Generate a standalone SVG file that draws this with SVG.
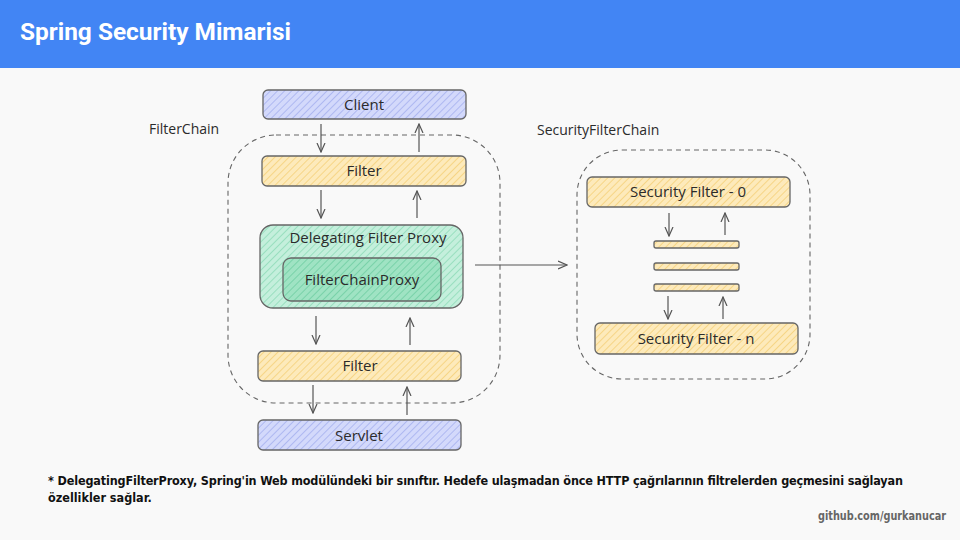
<svg xmlns="http://www.w3.org/2000/svg" width="960" height="540" viewBox="0 0 960 540">
<defs>
<pattern id="hb" width="5" height="5" patternUnits="userSpaceOnUse" patternTransform="rotate(45)"><rect width="5" height="5" fill="#d3d9fb"/><line x1="0" y1="0" x2="0" y2="5" stroke="#a5b0ef" stroke-width="1.6"/></pattern>
<pattern id="hy" width="5" height="5" patternUnits="userSpaceOnUse" patternTransform="rotate(45)"><rect width="5" height="5" fill="#fdeabb"/><line x1="0" y1="0" x2="0" y2="5" stroke="#f5d078" stroke-width="1.6"/></pattern>
<pattern id="hg" width="5" height="5" patternUnits="userSpaceOnUse" patternTransform="rotate(45)"><rect width="5" height="5" fill="#c4efdc"/><line x1="0" y1="0" x2="0" y2="5" stroke="#8edbb8" stroke-width="1.6"/></pattern>
<pattern id="hg2" width="5" height="5" patternUnits="userSpaceOnUse" patternTransform="rotate(45)"><rect width="5" height="5" fill="#9fe3c3"/><line x1="0" y1="0" x2="0" y2="5" stroke="#6fcea2" stroke-width="1.6"/></pattern>
<marker id="ah" viewBox="0 0 10 10" refX="9" refY="5" markerWidth="10" markerHeight="10" orient="auto" markerUnits="userSpaceOnUse"><path d="M0,1 L9,5 L0,9" fill="none" stroke="#555" stroke-width="1.2"/></marker>
<style>
.lbl{font-family:"Open Sans","DejaVu Sans",sans-serif;font-size:15px;fill:#2b2b2b;text-anchor:middle}
.cap{font-family:"Open Sans","DejaVu Sans",sans-serif;font-size:14px;fill:#2b2b2b}
.box{stroke:#666;stroke-width:1.3}
.con{stroke:#555;stroke-width:1.2;fill:none;marker-end:url(#ah)}
.dash{fill:none;stroke:#666;stroke-width:1.1;stroke-dasharray:5 4}
</style>
</defs>
<rect width="960" height="540" fill="#f9f9f9"/>
<rect width="960" height="68" fill="#4285f4"/>
<text x="20" y="40" font-family="Roboto,'Liberation Sans',sans-serif" font-weight="bold" font-size="24" fill="#fff" textLength="271" lengthAdjust="spacingAndGlyphs">Spring Security Mimarisi</text>

<g id="filterchain-container">
<rect x="228" y="135" width="272" height="268" rx="48" class="dash"/>
<text x="149" y="134" class="cap">FilterChain</text>
</g>
<g id="securityfilterchain-container">
<rect x="577" y="150" width="233" height="229" rx="45" class="dash"/>
<text x="537" y="135" class="cap">SecurityFilterChain</text>
</g>

<g id="client"><rect x="263" y="90" width="203" height="29" rx="5" fill="url(#hb)" class="box"/><text x="364" y="110" class="lbl">Client</text></g>
<g id="filter1"><rect x="262" y="156" width="204" height="30" rx="5" fill="url(#hy)" class="box"/><text x="364" y="176" class="lbl">Filter</text></g>
<g id="delegating-filter-proxy"><rect x="260" y="225" width="203" height="83" rx="13" fill="url(#hg)" class="box"/><text x="368" y="243" class="lbl">Delegating Filter Proxy</text></g>
<g id="filterchainproxy"><rect x="283" y="258" width="158" height="43" rx="8" fill="url(#hg2)" class="box"/><text x="362" y="285" class="lbl">FilterChainProxy</text></g>
<g id="filter2"><rect x="258" y="351" width="203" height="30" rx="5" fill="url(#hy)" class="box"/><text x="360" y="371" class="lbl">Filter</text></g>
<g id="servlet"><rect x="258" y="420" width="203" height="30" rx="5" fill="url(#hb)" class="box"/><text x="359" y="441" class="lbl">Servlet</text></g>

<g id="security-filter-0"><rect x="587" y="177" width="203" height="30" rx="5" fill="url(#hy)" class="box"/><text x="688" y="197" class="lbl">Security Filter - 0</text></g>
<g id="mid-filters">
<rect x="654" y="241" width="85" height="7" rx="2" fill="url(#hy)" class="box"/>
<rect x="654" y="263" width="85" height="7" rx="2" fill="url(#hy)" class="box"/>
<rect x="654" y="284" width="85" height="7" rx="2" fill="url(#hy)" class="box"/>
</g>
<g id="security-filter-n"><rect x="595" y="323" width="203" height="31" rx="5" fill="url(#hy)" class="box"/><text x="696" y="344" class="lbl">Security Filter - n</text></g>

<g id="connectors">
<line x1="321" y1="124" x2="321" y2="152" class="con"/>
<line x1="419" y1="152" x2="419" y2="124" class="con"/>
<line x1="321" y1="190" x2="321" y2="218" class="con"/>
<line x1="417" y1="218" x2="417" y2="191" class="con"/>
<line x1="316" y1="316" x2="316" y2="344" class="con"/>
<line x1="410" y1="345" x2="410" y2="318" class="con"/>
<line x1="313" y1="385" x2="313" y2="413" class="con"/>
<line x1="407" y1="415" x2="407" y2="387" class="con"/>
<line x1="475" y1="265" x2="567" y2="265" class="con"/>
<line x1="669" y1="213" x2="669" y2="236" class="con"/>
<line x1="725" y1="235" x2="725" y2="213" class="con"/>
<line x1="668" y1="296" x2="668" y2="319" class="con"/>
<line x1="723" y1="319" x2="723" y2="297" class="con"/>
</g>

<g id="footnote" font-family="'DejaVu Sans Condensed','Liberation Sans',sans-serif" font-size="12.5" fill="#111" font-weight="bold">
<text x="48" y="485" textLength="855" lengthAdjust="spacing">* DelegatingFilterProxy,  Spring'in Web modülündeki bir sınıftır. Hedefe ulaşmadan önce HTTP çağrılarının filtrelerden geçmesini sağlayan</text>
<text x="48" y="502">özellikler  sağlar.</text>
</g>
<text x="946" y="520" text-anchor="end" font-family="'DejaVu Sans Condensed','Liberation Sans',sans-serif" font-size="12" font-weight="bold" fill="#666" textLength="128" lengthAdjust="spacingAndGlyphs">github.com/gurkanucar</text>
</svg>
